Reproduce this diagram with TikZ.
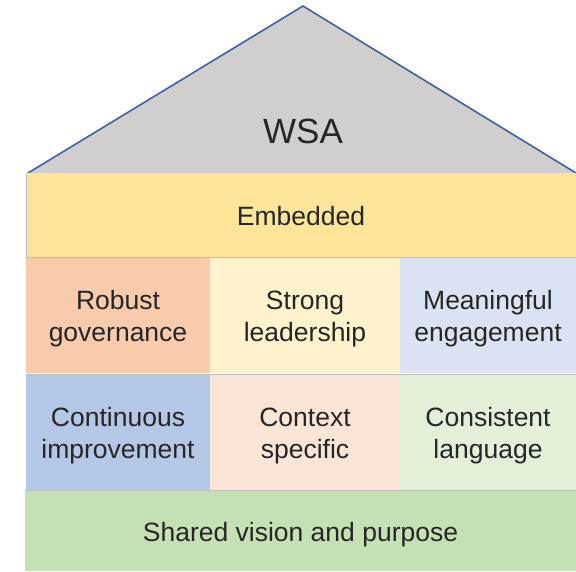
\documentclass[tikz,border=0pt]{standalone}
\usepackage{fontspec}
\setmainfont{Liberation Sans}
\definecolor{roofgray}{HTML}{D0CECE}
\definecolor{roofblue}{HTML}{41629E}
\definecolor{txt}{HTML}{262626}
\definecolor{cyellow}{HTML}{FEE599}
\definecolor{corange}{HTML}{F8CBAD}
\definecolor{ccream}{HTML}{FFF2CC}
\definecolor{clblue}{HTML}{DAE3F3}
\definecolor{cblue}{HTML}{B4C7E7}
\definecolor{cpeach}{HTML}{FBE5D6}
\definecolor{clgreen}{HTML}{E2F0D9}
\definecolor{cgreen}{HTML}{C5E0B4}
\tikzset{
  cell/.style={anchor=north west, inner sep=0pt, outer sep=0pt,
    text=txt, font=\fontsize{26.5}{32}\selectfont,
    align=center, minimum height=116pt, text height=58pt},
  sep/.style={draw=black!25, line width=1pt}
}
\begin{document}
\begin{tikzpicture}[x=1pt,y=-1pt]
  \useasboundingbox (0,0) rectangle (576,571);
  % roof
  \fill[roofgray] (28,173) -- (303,6) -- (576,173) -- cycle;
  \draw[roofblue, line width=1.6pt] (28,173) -- (303,6) -- (576,173);
  \node[text=txt, font=\fontsize{35}{40}\selectfont] (wsa) at (303,131) {WSA};
  % bands
  \node[cell, fill=cyellow, minimum width=550pt, minimum height=84pt, text height=21pt] (embedded) at (26,173) {Embedded};
  \node[cell, fill=corange, minimum width=184pt] (governance) at (26,257) {Robust\\governance};
  \node[cell, fill=ccream, minimum width=190pt] (leadership) at (210,257) {Strong\\leadership};
  \node[cell, fill=clblue, minimum width=176pt] (engagement) at (400,257) {Meaningful\\engagement};
  \node[cell, fill=cblue, minimum width=184pt] (improvement) at (26,374) {Continuous\\improvement};
  \node[cell, fill=cpeach, minimum width=190pt] (context) at (210,374) {Context\\specific};
  \node[cell, fill=clgreen, minimum width=176pt] (language) at (400,374) {Consistent\\language};
  \node[cell, fill=cgreen, minimum width=551pt, minimum height=81pt, text height=27pt] (vision) at (25,490) {Shared vision and purpose};
  % separators
  \draw[sep] (embedded.south west) -- (embedded.south east);
  \draw[sep] (improvement.north west) -- (language.north east);
  \draw[sep] (vision.north west) -- (vision.north east);
  \draw[sep] (embedded.north west) -- (embedded.south west);
\end{tikzpicture}
\end{document}
